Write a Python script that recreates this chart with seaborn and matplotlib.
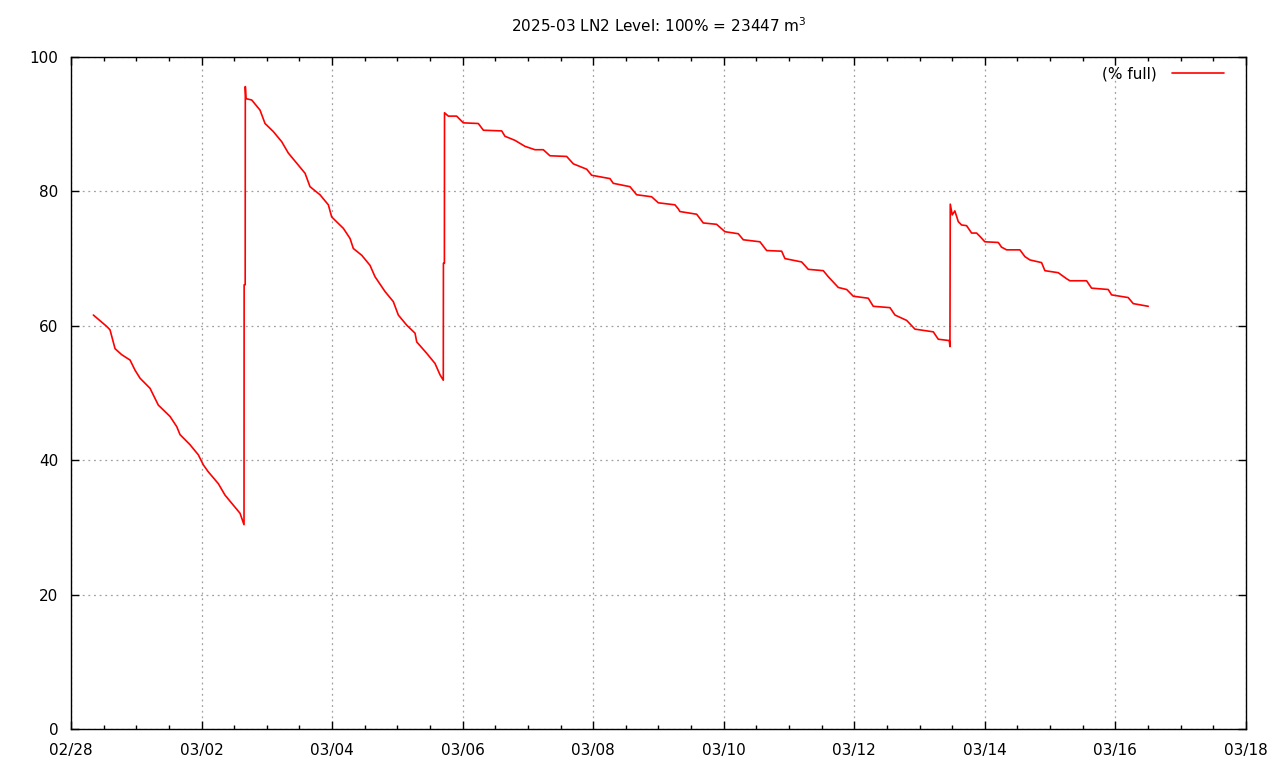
import matplotlib.dates as mdates
import matplotlib.pyplot as plt
import pandas as pd
import seaborn as sns

# ================================================================
# Data (days since 2025-02-28 00:00, % full)
# ================================================================
start = pd.Timestamp("2025-02-28")

days = [
    0.342, 0.547, 0.597, 0.674, 0.776, 0.904, 0.980, 1.057, 1.210, 1.337,
    1.517, 1.619, 1.670, 1.823, 1.950, 2.027, 2.100, 2.257, 2.359, 2.486,
    2.589, 2.650,
    2.652, 2.668, 2.670, 2.680, 2.768, 2.895, 2.972, 3.099, 3.227, 3.329,
    3.457, 3.585, 3.661, 3.814, 3.942, 3.993, 4.172, 4.274, 4.325, 4.453,
    4.580, 4.657, 4.810, 4.937, 5.014, 5.142, 5.270, 5.296, 5.449, 5.576,
    5.653, 5.703,
    5.705, 5.720, 5.722, 5.780, 5.908, 6.010, 6.240, 6.317, 6.598, 6.648,
    6.800, 6.955, 7.108, 7.235, 7.337, 7.593, 7.695, 7.900, 7.976, 8.257,
    8.307, 8.563, 8.665, 8.895, 8.997, 9.252, 9.303, 9.329, 9.585, 9.686,
    9.890, 10.018, 10.222, 10.299, 10.554, 10.657, 10.887, 10.937, 11.193,
    11.295, 11.525, 11.601, 11.755, 11.883, 11.984, 12.214, 12.290, 12.546,
    12.623, 12.802, 12.929, 13.210, 13.286, 13.455, 13.465,
    13.470, 13.500, 13.540, 13.593, 13.644, 13.720, 13.797, 13.873, 13.925,
    14.000, 14.205, 14.256, 14.333, 14.537, 14.613, 14.690, 14.869, 14.920,
    15.124, 15.252, 15.303, 15.558, 15.635, 15.890, 15.941, 16.196, 16.273,
    16.503,
]

level = [
    61.6, 59.9, 59.4, 56.6, 55.7, 54.9, 53.4, 52.2, 50.7, 48.2,
    46.5, 45.0, 43.8, 42.3, 40.8, 39.3, 38.3, 36.5, 34.8, 33.3,
    32.1, 30.4,
    66.1, 66.1, 95.6, 93.8, 93.6, 92.1, 90.1, 88.9, 87.4, 85.7,
    84.2, 82.7, 80.7, 79.5, 78.0, 76.2, 74.5, 73.0, 71.5, 70.5,
    69.0, 67.3, 65.1, 63.6, 61.6, 60.1, 58.9, 57.6, 55.9, 54.4,
    52.7, 51.9,
    69.3, 69.3, 91.7, 91.2, 91.2, 90.2, 90.1, 89.1, 89.0, 88.2,
    87.6, 86.7, 86.2, 86.2, 85.3, 85.2, 84.1, 83.3, 82.4, 81.9,
    81.2, 80.7, 79.5, 79.2, 78.3, 78.0, 77.4, 77.0, 76.6, 75.3,
    75.1, 74.0, 73.7, 72.8, 72.5, 71.2, 71.1, 70.0, 69.5,
    68.4, 68.2, 67.3, 65.7, 65.4, 64.4, 64.1, 62.9, 62.7,
    61.6, 60.8, 59.5, 59.1, 58.0, 57.8, 56.9,
    78.1, 76.5, 77.1, 75.5, 75.0, 74.9, 73.8, 73.8, 73.3,
    72.5, 72.4, 71.7, 71.3, 71.3, 70.3, 69.8, 69.4, 68.2,
    67.9, 67.0, 66.7, 66.7, 65.6, 65.4, 64.6, 64.2, 63.3,
    62.9,
]

df = pd.DataFrame({"time": start + pd.to_timedelta(days, unit="D"), "level": level})

# ================================================================
# Plot
# ================================================================
sns.set_style("ticks")
plt.rcParams["font.family"] = ["DejaVu Sans"]
plt.rcParams["text.color"] = "black"
plt.rcParams["xtick.color"] = "black"
plt.rcParams["ytick.color"] = "black"

fig = plt.figure(figsize=(12.8, 7.68), dpi=100)
ax = fig.add_axes([0.0555, 0.0508, 0.9179, 0.875])

sns.lineplot(data=df, x="time", y="level", color="red", linewidth=1.2,
             sort=False, estimator=None, label="(% full)", ax=ax)

ax.set_xlim(start, pd.Timestamp("2025-03-18"))
ax.set_ylim(0, 100)
ax.set_yticks([0, 20, 40, 60, 80, 100])
ax.xaxis.set_major_locator(mdates.DayLocator(bymonthday=[2, 4, 6, 8, 10, 12, 14, 16, 18, 28]))
ax.xaxis.set_major_formatter(mdates.DateFormatter("%m/%d"))
ax.xaxis.set_minor_locator(mdates.HourLocator(byhour=[0, 12]))
ax.set_xlabel("")
ax.set_ylabel("")

ax.grid(True, which="major", color="#a0a0a0", linestyle=(0, (1.5, 3)), linewidth=0.9)
ax.tick_params(which="major", direction="in", length=6, width=1, top=True, right=True,
               labelsize=11, colors="black")
ax.tick_params(which="minor", direction="in", length=3, width=1, top=True, right=True)
ax.tick_params(axis="x", pad=10)
ax.tick_params(axis="y", pad=9)
for s in ax.spines.values():
    s.set_linewidth(1.0)
    s.set_color("black")

ax.set_title(r"2025-03 LN2 Level: 100% = 23447 m$^3$", fontsize=11, pad=18, color="black")

ax.legend(loc="upper right", bbox_to_anchor=(0.9906, 1.0015), frameon=False,
          markerfirst=False, handlelength=3.4, fontsize=11, borderaxespad=0.3,
          handletextpad=1.0, labelcolor="black")

fig.savefig("out.png", dpi=100)
plt.close(fig)
